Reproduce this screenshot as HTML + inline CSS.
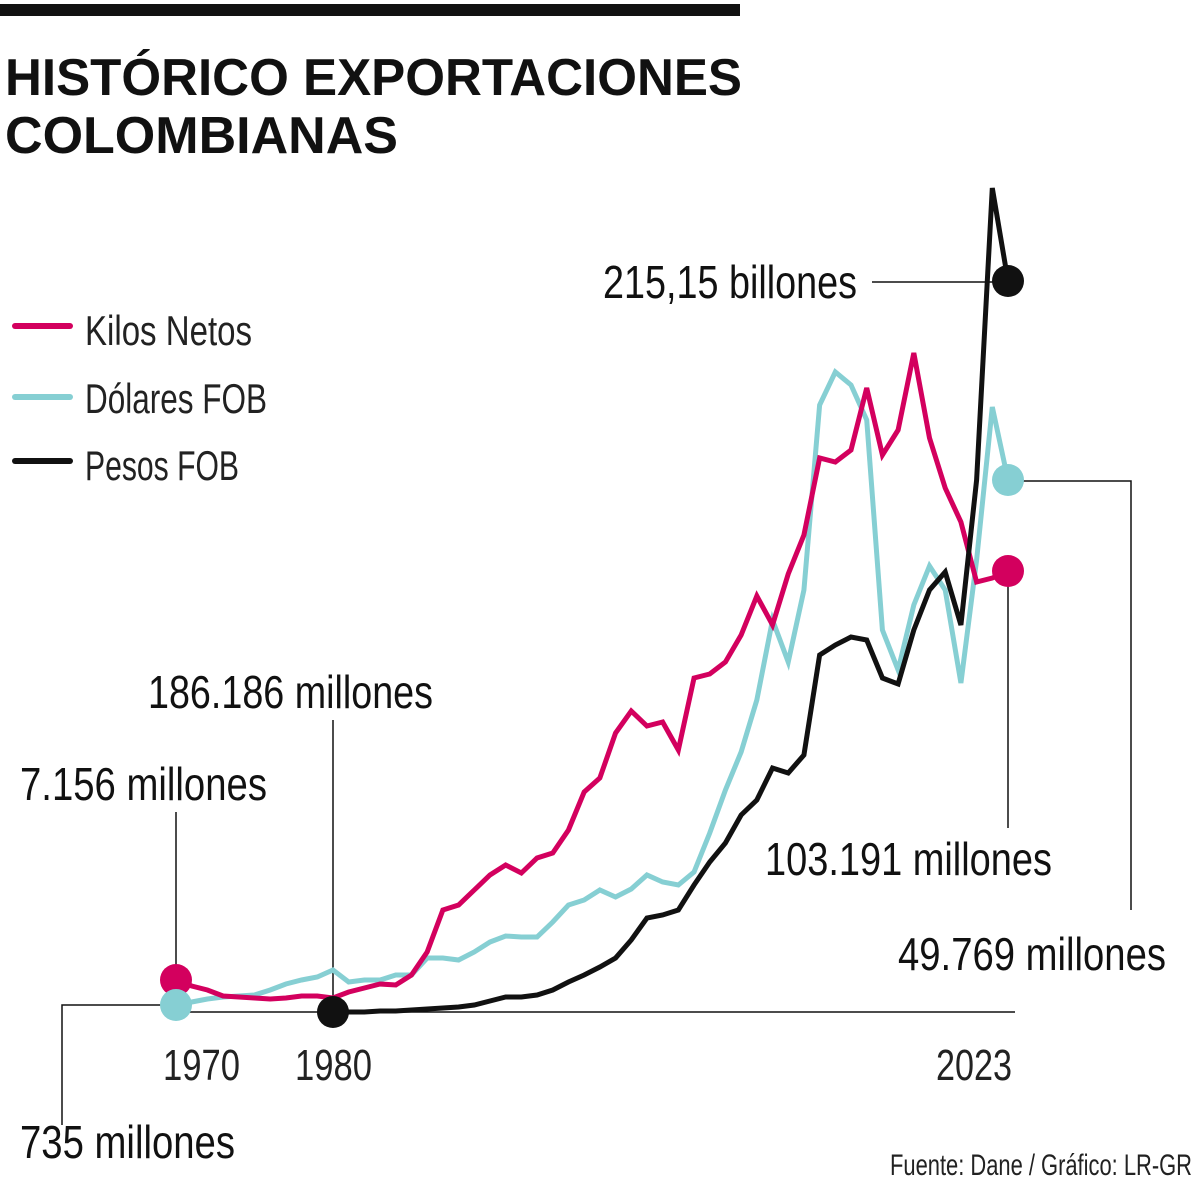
<!DOCTYPE html>
<html><head><meta charset="utf-8"><style>
html,body{margin:0;padding:0;background:#fff;}
svg{display:block;font-family:"Liberation Sans Narrow","Liberation Sans",sans-serif;}
</style></head><body>
<svg width="1200" height="1188" viewBox="0 0 1200 1188">
<rect x="0" y="4" width="740" height="12" fill="#111"/>
<text x="5" y="95" font-size="52" font-weight="bold" textLength="737" lengthAdjust="spacingAndGlyphs" fill="#111" font-family="Liberation Sans, sans-serif">HISTÓRICO EXPORTACIONES</text>
<text x="5" y="153" font-size="52" font-weight="bold" textLength="393" lengthAdjust="spacingAndGlyphs" fill="#111" font-family="Liberation Sans, sans-serif">COLOMBIANAS</text>
<g id="legend">
<line x1="15" y1="326" x2="70" y2="326" stroke="#d3005e" stroke-width="6" stroke-linecap="round"/>
<text x="85" y="345" font-size="42" textLength="167" lengthAdjust="spacingAndGlyphs" fill="#222">Kilos Netos</text>
<line x1="15" y1="397" x2="70" y2="397" stroke="#86cfd3" stroke-width="6" stroke-linecap="round"/>
<text x="85" y="413" font-size="42" textLength="182" lengthAdjust="spacingAndGlyphs" fill="#222">Dólares FOB</text>
<line x1="15" y1="461" x2="70" y2="461" stroke="#111" stroke-width="6" stroke-linecap="round"/>
<text x="85" y="480" font-size="42" textLength="154" lengthAdjust="spacingAndGlyphs" fill="#222">Pesos FOB</text>
</g>
<g id="annot" fill="#111" stroke="none">
<line x1="176" y1="1012" x2="1015" y2="1012" stroke="#111" stroke-width="1.5"/>
<polyline points="176,1005 62,1005 62,1125" fill="none" stroke="#111" stroke-width="1.5"/>
<line x1="176" y1="812" x2="176" y2="980" stroke="#111" stroke-width="1.5"/>
<line x1="333" y1="720" x2="333" y2="1012" stroke="#111" stroke-width="1.5"/>
<line x1="1008" y1="571" x2="1008" y2="828" stroke="#111" stroke-width="1.5"/>
<polyline points="1008,481 1131,481 1131,910" fill="none" stroke="#111" stroke-width="1.5"/>
<line x1="872" y1="282" x2="1008" y2="282" stroke="#111" stroke-width="1.5"/>
<text x="603" y="298" font-size="46" textLength="254" lengthAdjust="spacingAndGlyphs">215,15 billones</text>
<text x="148" y="708" font-size="46" textLength="285" lengthAdjust="spacingAndGlyphs">186.186 millones</text>
<text x="20" y="800" font-size="46" textLength="247" lengthAdjust="spacingAndGlyphs">7.156 millones</text>
<text x="20" y="1158" font-size="46" textLength="215" lengthAdjust="spacingAndGlyphs">735 millones</text>
<text x="765" y="875" font-size="46" textLength="287" lengthAdjust="spacingAndGlyphs">103.191 millones</text>
<text x="898" y="970" font-size="46" textLength="268" lengthAdjust="spacingAndGlyphs">49.769 millones</text>
<text x="163" y="1080" font-size="44" textLength="77" lengthAdjust="spacingAndGlyphs" fill="#222">1970</text>
<text x="295" y="1080" font-size="44" textLength="77" lengthAdjust="spacingAndGlyphs" fill="#222">1980</text>
<text x="936" y="1080" font-size="44" textLength="76" lengthAdjust="spacingAndGlyphs" fill="#222">2023</text>
<text x="890" y="1175" font-size="30" textLength="302" lengthAdjust="spacingAndGlyphs" fill="#222">Fuente: Dane / Gráfico: LR-GR</text>
</g>
<g id="series"></g>
</svg>
<script>
const kilosYears=[1970,1971,1972,1973,1974,1975,1976,1977,1978,1979,1980,1981,1982,1983,1984,1985,1986,1987,1988,1989,1990,1991,1992,1993,1994,1995,1996,1997,1998,1999,2000,2001,2002,2003,2004,2005,2006,2007,2008,2009,2010,2011,2012,2013,2014,2015,2016,2017,2018,2019,2020,2021,2022,2023];
const kilosValues=[32,26,22,16,15,14,13,14,16,16,14,20,24,28,27,37,60,102,107,122,137,147,139,154,159,182,220,234,279,301,286,290,262,334,338,350,377,416,387,438,477,554,550,562,624,557,582,659,574,524,490,430,434,441];
const dolaresValues=[7,10,13,15,16,17,22,28,32,35,42,30,32,32,37,37,54,54,52,60,70,76,75,75,90,107,112,122,115,123,137,130,127,140,179,222,260,312,392,350,422,607,640,627,592,382,342,407,446,422,329,452,605,532];
const pesosYears=[1980,1981,1982,1983,1984,1985,1986,1987,1988,1989,1990,1991,1992,1993,1994,1995,1996,1997,1998,1999,2000,2001,2002,2003,2004,2005,2006,2007,2008,2009,2010,2011,2012,2013,2014,2015,2016,2017,2018,2019,2020,2021,2022,2023];
const pesosValues=[0,0,0,1,1,2,3,4,5,7,11,15,15,17,22,30,37,45,54,72,94,97,102,127,150,169,197,212,244,239,257,357,367,375,372,334,328,382,422,440,387,532,824,731];
const xScale=y=>176+(y-1970)*(832/53);
const yScale=v=>1012-v;
const NS='http://www.w3.org/2000/svg';
const g=document.getElementById('series');
function draw(years,vals,color,name){
  const p=document.createElementNS(NS,'polyline');
  p.setAttribute('points',years.map((y,i)=>xScale(y)+','+yScale(vals[i])).join(' '));
  p.setAttribute('fill','none');p.setAttribute('stroke',color);p.setAttribute('stroke-width','5');p.setAttribute('stroke-linejoin','miter');
  
  
  g.appendChild(p);
}
function dot(year,val,color,name){
  const c=document.createElementNS(NS,'circle');
  c.setAttribute('cx',xScale(year));c.setAttribute('cy',yScale(val));c.setAttribute('r','16');c.setAttribute('fill',color);
  
  
  g.appendChild(c);
}
draw(kilosYears,dolaresValues,'#86cfd3','dolares-fob');
draw(kilosYears,kilosValues,'#d3005e','kilos-netos');
draw(pesosYears,pesosValues,'#111','pesos-fob');
dot(1970,kilosValues[0],'#d3005e','kilos-start-dot');
dot(1970,dolaresValues[0],'#86cfd3','dolares-start-dot');
dot(1980,pesosValues[0],'#111','pesos-start-dot');
dot(2023,kilosValues[kilosValues.length-1],'#d3005e','kilos-end-dot');
dot(2023,dolaresValues[dolaresValues.length-1],'#86cfd3','dolares-end-dot');
dot(2023,pesosValues[pesosValues.length-1],'#111','pesos-end-dot');
</script>
</body></html>
